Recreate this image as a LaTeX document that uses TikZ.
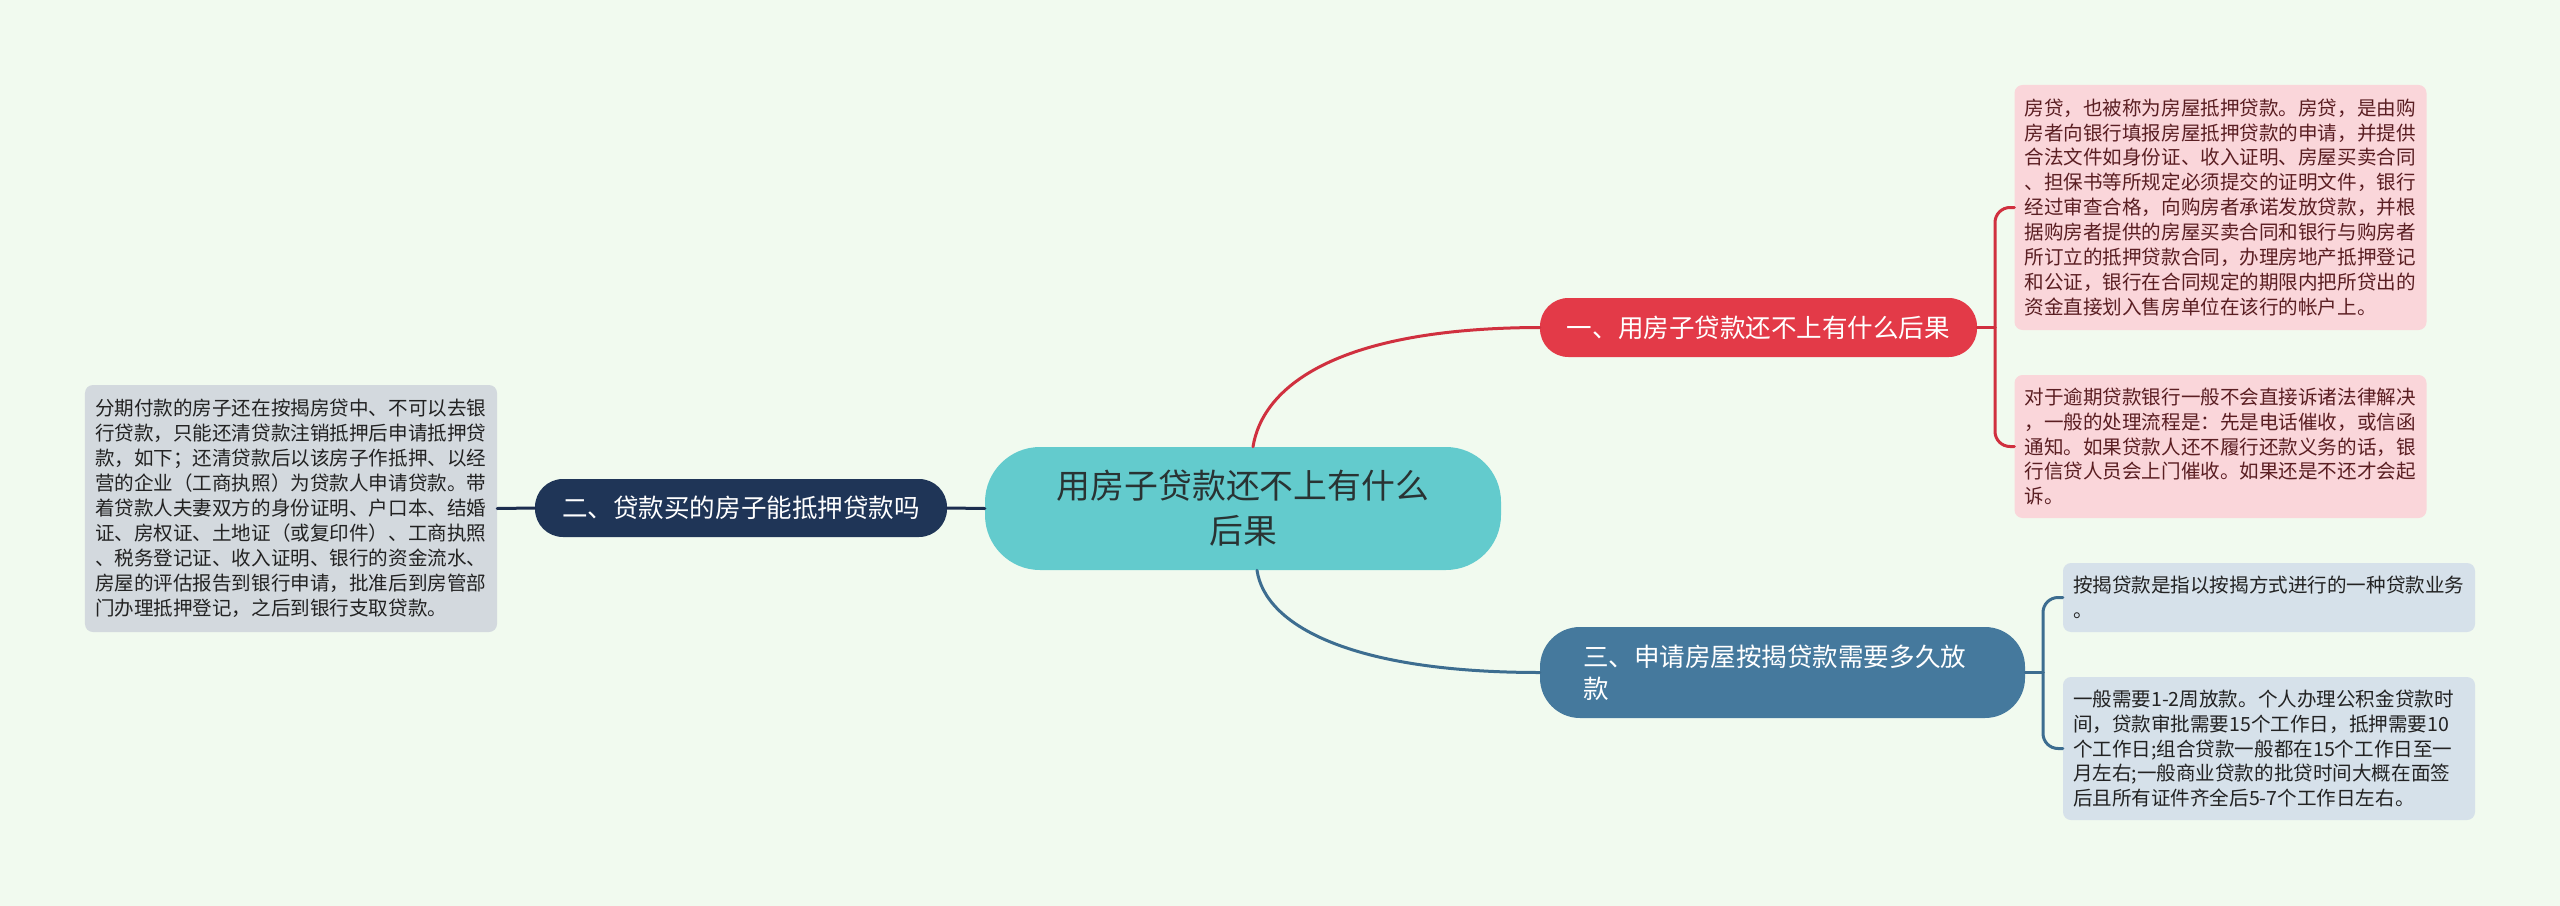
\documentclass[tikz,border=0pt]{standalone}
\usepackage{fontspec}
\setmainfont{Noto Sans CJK SC}
\definecolor{bgc}{HTML}{F1FAEF}
\definecolor{centerc}{HTML}{63CBCD}
\definecolor{redc}{HTML}{E33A48}
\definecolor{redl}{HTML}{D0303F}
\definecolor{navyc}{HTML}{1F3557}
\definecolor{navyl}{HTML}{1C2D4F}
\definecolor{bluec}{HTML}{45799D}
\definecolor{bluel}{HTML}{3D6D90}
\definecolor{pinkc}{HTML}{FAD6DA}
\definecolor{pinkt}{HTML}{5A1E22}
\definecolor{grayc}{HTML}{D3D9DE}
\definecolor{lbluec}{HTML}{D6E1EA}
\definecolor{darkt}{HTML}{222222}
\begin{document}
\begin{tikzpicture}[x=0.3mm,y=-0.3mm,
  topic/.style={draw=none, inner sep=0pt, text=white, align=center,
    font={\fontsize{21.8pt}{27.3pt}\selectfont}},
  leaf/.style={draw=none, rounded corners=2.4mm, text width=117.6mm, inner xsep=3mm,
    inner ysep=0pt, align=left, font={\fontsize{16.7pt}{21.3pt}\selectfont}},
  conn/.style={line width=0.9mm, line cap=round}
]
\fill[bgc] (0,0) rectangle (2560,906);
\useasboundingbox (0,0) rectangle (2560,906);

% central topic
\node[fill=centerc, rounded corners=16.5mm, minimum width=154.8mm, minimum height=36.9mm,
  inner sep=0pt, align=center, text=darkt!90!centerc,
  font={\fontsize{28.9pt}{38.4pt}\selectfont}] (c) at (1243,508.5)
  {用房子贷款还不上有什么\\后果};

% main branches
\node[topic, fill=redc, rounded corners=8.5mm, minimum width=131.1mm, minimum height=17.7mm]
  (n1) at (1758.5,327.5) {一、用房子贷款还不上有什么后果};
\node[topic, fill=navyc, rounded corners=8.4mm, minimum width=123.6mm, minimum height=17.4mm]
  (n2) at (741,508) {二、贷款买的房子能抵押贷款吗};
\node[topic, fill=bluec, rounded corners=12mm, minimum width=145.5mm, minimum height=27.3mm,
  text width=119.7mm, inner xsep=12.9mm, align=left]
  (n3) at (1782.5,672.5) {三、申请房屋按揭贷款需要多久放\\款};

% leaves
\node[leaf, fill=pinkc, text=pinkt, minimum height=73.5mm] (p1) at (2220.5,207.5)
  {房贷，也被称为房屋抵押贷款。房贷，是由购\\
   房者向银行填报房屋抵押贷款的申请，并提供\\
   合法文件如身份证、收入证明、房屋买卖合同\\
   、担保书等所规定必须提交的证明文件，银行\\
   经过审查合格，向购房者承诺发放贷款，并根\\
   据购房者提供的房屋买卖合同和银行与购房者\\
   所订立的抵押贷款合同，办理房地产抵押登记\\
   和公证，银行在合同规定的期限内把所贷出的\\
   资金直接划入售房单位在该行的帐户上。};
\node[leaf, fill=pinkc, text=pinkt, minimum height=42.9mm] (p2) at (2220.5,446.5)
  {对于逾期贷款银行一般不会直接诉诸法律解决\\
   ，一般的处理流程是：先是电话催收，或信函\\
   通知。如果贷款人还不履行还款义务的话，银\\
   行信贷人员会上门催收。如果还是不还才会起\\
   诉。};
\node[leaf, fill=grayc, text=darkt, minimum height=74.1mm] (g) at (291,508.5)
  {分期付款的房子还在按揭房贷中、不可以去银\\
   行贷款，只能还清贷款注销抵押后申请抵押贷\\
   款，如下；还清贷款后以该房子作抵押、以经\\
   营的企业（工商执照）为贷款人申请贷款。带\\
   着贷款人夫妻双方的身份证明、户口本、结婚\\
   证、房权证、土地证（或复印件）、工商执照\\
   、税务登记证、收入证明、银行的资金流水、\\
   房屋的评估报告到银行申请，批准后到房管部\\
   门办理抵押登记，之后到银行支取贷款。};
\node[leaf, fill=lbluec, text=darkt, minimum height=20.7mm] (b1) at (2269,597.5)
  {按揭贷款是指以按揭方式进行的一种贷款业务\\。};
\node[leaf, fill=lbluec, text=darkt, minimum height=42.9mm] (b2) at (2269,748.5)
  {一般需要1-2周放款。个人办理公积金贷款时\\
   间，贷款审批需要15个工作日，抵押需要10\\
   个工作日;组合贷款一般都在15个工作日至一\\
   月左右;一般商业贷款的批贷时间大概在面签\\
   后且所有证件齐全后5-7个工作日左右。};

% connectors
\draw[conn, redl] ([xshift=3mm]c.north) .. controls (1262,390) and (1330,328) .. (n1.west);
\draw[conn, bluel] ([xshift=4.2mm]c.south) .. controls (1265,625) and (1350,672.5) .. (n3.west);
\draw[conn, navyl] (c.west) -- (n2.east);
\draw[conn, navyl] (n2.west) -- (g.east);

\coordinate (rj) at (1995,327.5);
\draw[conn, redl] (n1.east) -- (rj);
\draw[conn, redl, rounded corners=4.5mm] (rj) |- (p1.west);
\draw[conn, redl, rounded corners=4.5mm] (rj) |- (p2.west);

\coordinate (bj) at (2043,672.5);
\draw[conn, bluel] (n3.east) -- (bj);
\draw[conn, bluel, rounded corners=4.5mm] (bj) |- (b1.west);
\draw[conn, bluel, rounded corners=4.5mm] (bj) |- (b2.west);
\end{tikzpicture}
\end{document}
